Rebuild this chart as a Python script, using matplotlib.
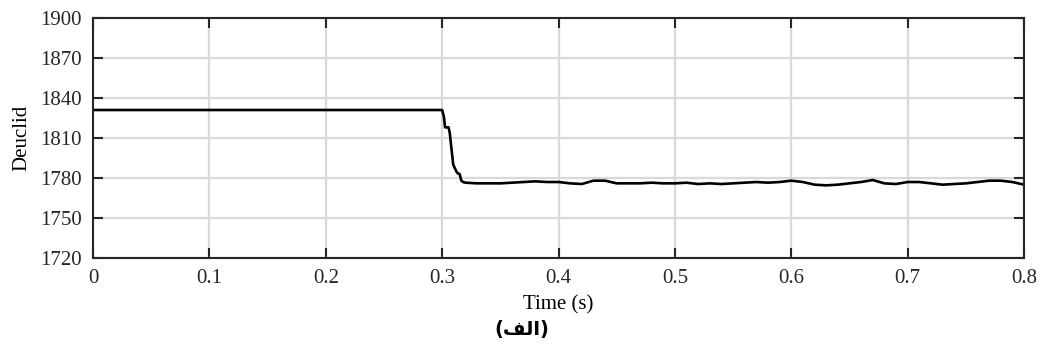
import numpy as np
import matplotlib.pyplot as plt

# Deuclid trace: flat until the step at 0.3 s, then settling around 1776
t = [0.0, 0.300, 0.3015, 0.3025, 0.3055, 0.3065, 0.3095, 0.3125, 0.3135, 0.3150, 0.3165, 0.318,
     0.32, 0.33, 0.34, 0.35, 0.36, 0.37, 0.38, 0.39, 0.40, 0.41, 0.42, 0.43, 0.44,
     0.45, 0.46, 0.47, 0.48, 0.49, 0.50, 0.51, 0.52, 0.53, 0.54, 0.55, 0.56, 0.57,
     0.58, 0.59, 0.60, 0.61, 0.62, 0.63, 0.64, 0.65, 0.66, 0.67, 0.68, 0.69, 0.70,
     0.71, 0.72, 0.73, 0.74, 0.75, 0.76, 0.77, 0.78, 0.79, 0.80]
deuclid = [1831, 1831, 1826, 1818, 1818, 1814, 1790, 1784.5, 1783.5, 1783, 1778, 1777,
           1776.5, 1776, 1776, 1776, 1776.5, 1777, 1777.5, 1777, 1777, 1776, 1775.5, 1778, 1778,
           1776, 1776, 1776, 1776.5, 1776, 1776, 1776.5, 1775.5, 1776, 1775.5, 1776, 1776.5, 1777,
           1776.5, 1777, 1778, 1777, 1775, 1774.5, 1775, 1776, 1777, 1778.5, 1776, 1775.5, 1777,
           1777, 1776, 1775, 1775.5, 1776, 1777, 1778, 1778, 1777, 1775]

xticks = np.arange(0, 0.81, 0.1)
yticks = np.arange(1720, 1901, 30)

plt.rcParams['font.family'] = ['Liberation Serif', 'DejaVu Serif']
plt.rcParams['font.size'] = 15

fig = plt.figure(figsize=(10.43, 3.49), dpi=100)
ax = fig.add_axes([0.0892, 0.2607, 0.8926, 0.6877])

ax.plot(t, deuclid, color='black', linewidth=1.9)

ax.set_xlim(0, 0.8)
ax.set_ylim(1720, 1900)
ax.set_xticks(xticks)
ax.set_xticklabels(['0'] + ['%.1f' % v for v in xticks[1:]])
ax.set_yticks(yticks)
ax.grid(True, color='#d9d9d9', linewidth=1.6)
ax.tick_params(direction='in', length=7, width=1.5, colors='#262626',
               top=True, right=True, labelcolor='#262626')
ax.tick_params(axis='x', pad=8)
ax.tick_params(axis='y', pad=8)
for s in ax.spines.values():
    s.set_linewidth(1.5)
    s.set_color('#262626')

ax.set_xlabel('Time (s)', labelpad=5)
ax.set_ylabel('Deuclid', labelpad=6)

# caption (Arabic presentation forms, visual order)
fig.text(0.5, 0.055, '(\uFED2\uFEDF\uFE8D)', ha='center', va='center',
         fontsize=14, fontweight='bold', family=['DejaVu Sans'])

fig.savefig('out.png', dpi=100)
